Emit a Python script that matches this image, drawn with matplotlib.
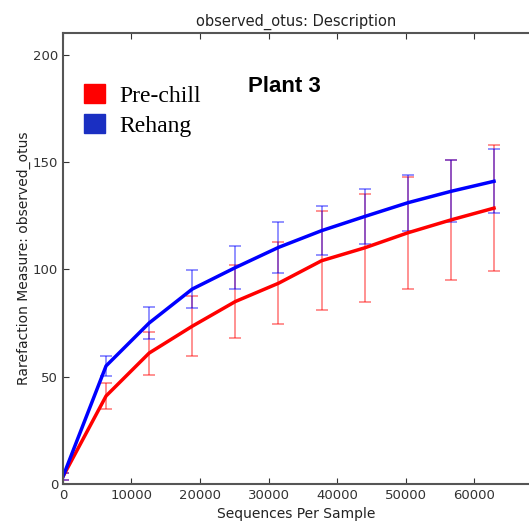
import matplotlib
matplotlib.use('Agg')
import matplotlib.pyplot as plt
from matplotlib.patches import Patch

# rarefaction depths
depths = [10, 6290, 12580, 18870, 25160, 31450, 37740, 44030, 50320, 56610, 62900]

# Pre-chill
prechill_mean = [3.5, 41, 61, 73.5, 85, 93.5, 104, 110, 117, 123, 128.5]
prechill_err = [1.5, 6, 10, 14, 17, 19, 23, 25, 26, 28, 29.5]

# Rehang
rehang_mean = [3.5, 55, 75, 90.8, 100.8, 110.2, 118, 124.6, 131, 136.3, 141]
rehang_err = [1.5, 4.5, 7.5, 9, 10, 12, 11.5, 13, 13, 14.5, 15]

fig = plt.figure(figsize=(5.29, 5.28), dpi=100)
ax = fig.add_axes([0.119, 0.0833, 0.881, 0.854])

ax.errorbar(depths, prechill_mean, yerr=prechill_err, color='#ff0000', lw=2.5,
            ecolor=(1, 0, 0, 0.5), elinewidth=1.2, capsize=4, capthick=1.2)
ax.errorbar(depths, rehang_mean, yerr=rehang_err, color='#0000ff', lw=2.5,
            ecolor=(0, 0, 1, 0.5), elinewidth=1.2, capsize=4, capthick=1.2)

ax.set_xlim(0, 68000)
ax.set_ylim(0, 210)
ax.set_xticks([0, 10000, 20000, 30000, 40000, 50000, 60000])
ax.set_yticks([0, 50, 100, 150, 200])
ax.tick_params(direction='in', top=True, right=False, labelsize=9.5,
               colors='#333333', length=4)
for s in ['left', 'bottom', 'top']:
    ax.spines[s].set_color('#555555')
    ax.spines[s].set_linewidth(1.5)
ax.spines['right'].set_visible(False)

ax.set_title('observed_otus: Description', fontsize=10.5, color='#222222', pad=5)
ax.set_xlabel('Sequences Per Sample', fontsize=10, color='#222222')
ax.set_ylabel('Rarefaction Measure: observed_otus', fontsize=10, color='#222222',
              labelpad=1)

ax.text(0.475, 0.882, 'Plant 3', transform=ax.transAxes, ha='center', va='center',
        fontsize=16, fontweight='bold', family='Liberation Sans')

handles = [Patch(color='#ff0000', label='Pre-chill'),
           Patch(color='#1a2fc2', label='Rehang')]
ax.legend(handles=handles, loc='upper left', bbox_to_anchor=(0.0, 0.935),
          frameon=False, prop={'family': 'Liberation Serif', 'size': 17},
          handlelength=0.9, handleheight=0.9, handletextpad=0.6, labelspacing=0.3)

fig.savefig('out.png', dpi=100)
